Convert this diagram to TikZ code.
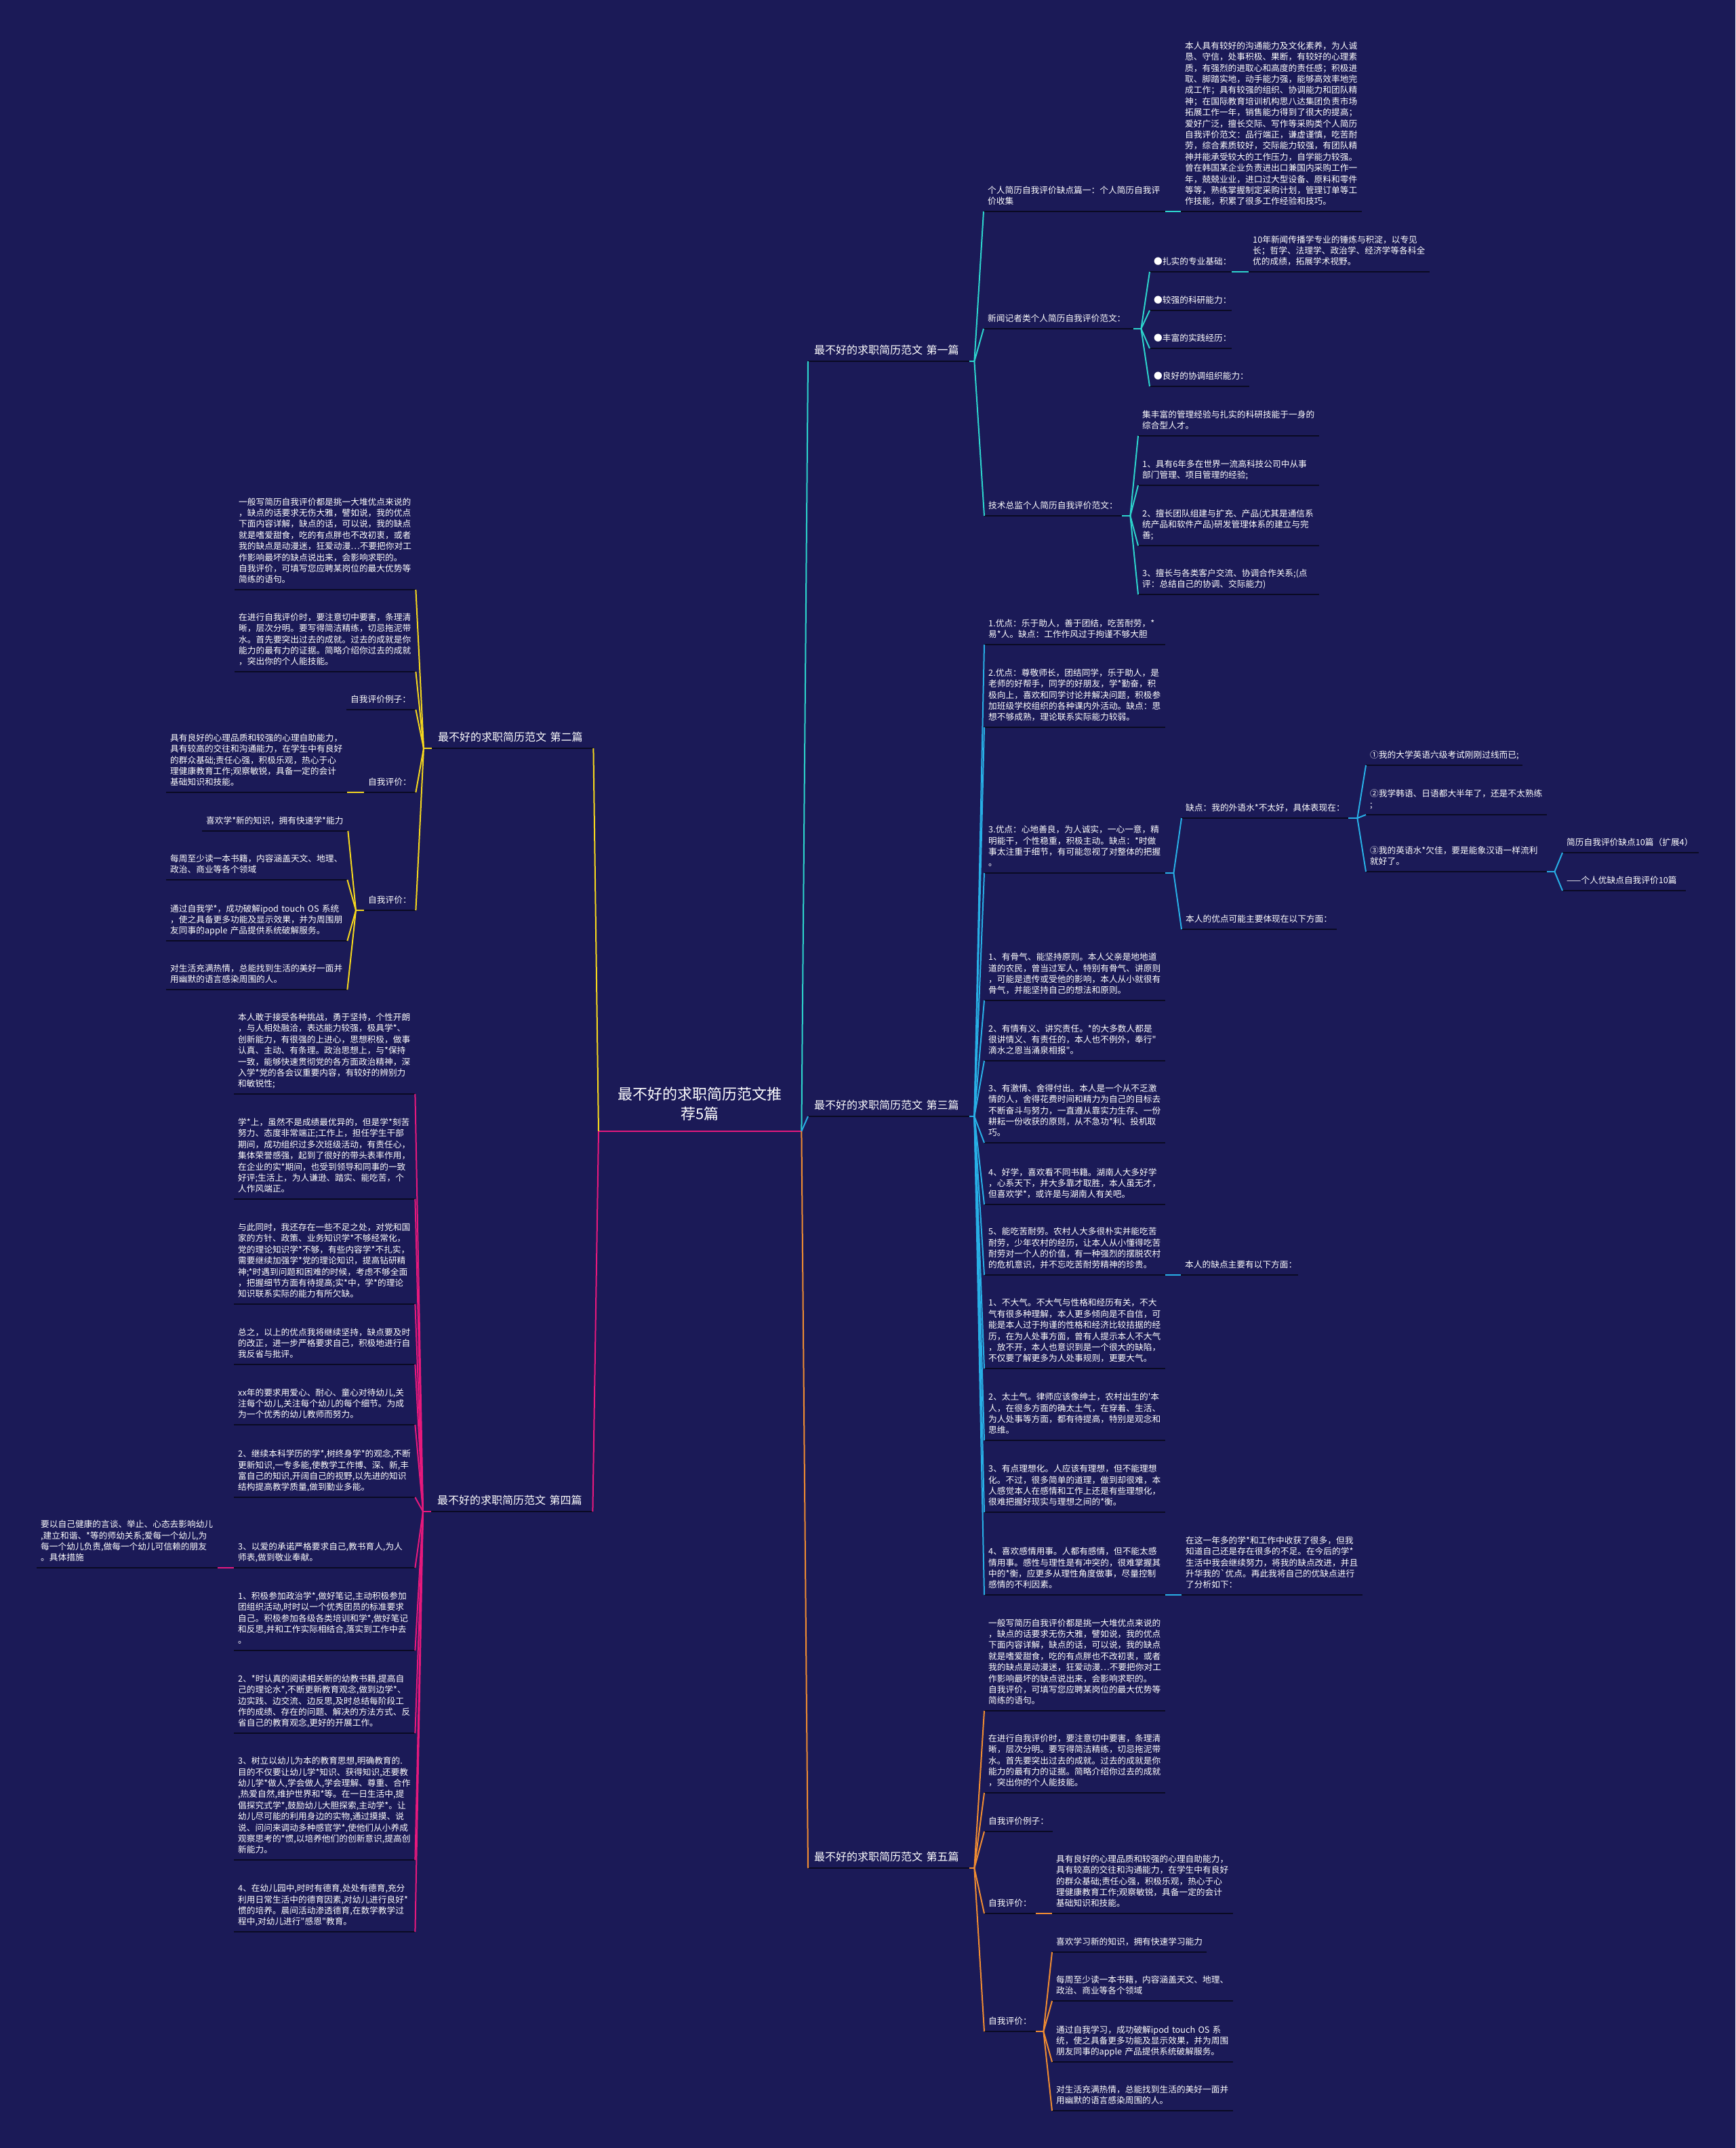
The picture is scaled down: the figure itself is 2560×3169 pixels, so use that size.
\documentclass[tikz,border=0pt]{standalone}
\usepackage{fontspec}
\newfontfamily\cjk{Noto Sans CJK SC}
\definecolor{bg}{RGB}{27,26,87}
\definecolor{ulc}{RGB}{10,10,35}
\definecolor{c1}{RGB}{45,212,205}
\definecolor{c2}{RGB}{245,215,30}
\definecolor{c3}{RGB}{40,175,230}
\definecolor{c4}{RGB}{230,25,125}
\definecolor{c5}{RGB}{240,140,50}

\begin{document}
\begin{tikzpicture}[x=1pt,y=-1pt,
    tx/.style={anchor=south west,text=white,align=left,inner xsep=6pt,inner ysep=5pt,
      font=\cjk\fontsize{12.7}{16.4}\selectfont,execute at end node=\strut},
    para/.style={tx,text width=255pt},
    branch/.style={tx,inner xsep=9pt,inner ysep=4pt,text width=220pt,font=\cjk\fontsize{16}{20}\selectfont},
    ul/.style={draw=ulc,line width=2.2pt},
    ln/.style={draw=#1,line width=2pt}]
\fill[bg] (0,0) rectangle (2560,3169);

% root
\node[tx,align=center,inner xsep=10pt,inner ysep=9pt,text width=279pt,
  font=\cjk\fontsize{22}{29}\selectfont] (r) at (883,1669) {最不好的求职简历范文推\\荐5篇};

% branches
\node[branch] (b1) at (1192,533) {最不好的求职简历范文 第一篇};
\node[branch] (b3) at (1192,1647) {最不好的求职简历范文 第三篇};
\node[branch] (b5) at (1192,2756) {最不好的求职简历范文 第五篇};
\node[branch] (b2) at (637,1104) {最不好的求职简历范文 第二篇};
\node[branch] (b4) at (636,2230) {最不好的求职简历范文 第四篇};

% first
\node[tx,text width=256pt] (n11) at (1451,312) {个人简历自我评价缺点篇一：个人简历自我评\\价收集};
\node[para] (n111) at (1742,312) {本人具有较好的沟通能力及文化素养，为人诚\\恳、守信，处事积极、果断，有较好的心理素\\质，有强烈的进取心和高度的责任感；积极进\\取、脚踏实地，动手能力强，能够高效率地完\\成工作；具有较强的组织、协调能力和团队精\\神；在国际教育培训机构思八达集团负责市场\\拓展工作一年，销售能力得到了很大的提高；\\爱好广泛，擅长交际、写作等采购类个人简历\\自我评价范文：品行端正，谦虚谨慎，吃苦耐\\劳，综合素质较好，交际能力较强，有团队精\\神并能承受较大的工作压力，自学能力较强。\\曾在韩国某企业负责进出口兼国内采购工作一\\年，兢兢业业，进口过大型设备、原料和零件\\等等，熟练掌握制定采购计划，管理订单等工\\作技能，积累了很多工作经验和技巧。};
\node[tx,text width=209pt] (n12) at (1451,485) {新闻记者类个人简历自我评价范文：};
\node[tx,text width=109pt] (n121) at (1696,401) {●扎实的专业基础：};
\node[para] (n1211) at (1842,401) {10年新闻传播学专业的锤炼与积淀，以专见\\长；哲学、法理学、政治学、经济学等各科全\\优的成绩，拓展学术视野。};
\node[tx,text width=109pt] (n122) at (1696,458) {●较强的科研能力：};
\node[tx,text width=109pt] (n123) at (1696,514) {●丰富的实践经历：};
\node[tx,text width=135pt] (n124) at (1696,570) {●良好的协调组织能力：};
\node[tx,text width=191pt] (n13) at (1452,761) {技术总监个人简历自我评价范文：};
\node[para] (n131) at (1679,643) {集丰富的管理经验与扎实的科研技能于一身的\\综合型人才。};
\node[para] (n132) at (1679,716) {1、具有6年多在世界一流高科技公司中从事\\部门管理、项目管理的经验;};
\node[para] (n133) at (1679,805) {2、擅长团队组建与扩充、产品(尤其是通信系\\统产品和软件产品)研发管理体系的建立与完\\善;};
\node[para] (n134) at (1679,877) {3、擅长与各类客户交流、协调合作关系;(点\\评：总结自己的协调、交际能力)};

% third
\node[para] (n31) at (1452,951) {1.优点：乐于助人，善于团结，吃苦耐劳，*\\易*人。缺点：工作作风过于拘谨不够大胆};
\node[para] (n32) at (1452,1073) {2.优点：尊敬师长，团结同学，乐于助人，是\\老师的好帮手，同学的好朋友，学*勤奋，积\\极向上，喜欢和同学讨论并解决问题，积极参\\加班级学校组织的各种课内外活动。缺点：思\\想不够成熟，理论联系实际能力较弱。};
\node[para] (n33) at (1452,1288) {3.优点：心地善良，为人诚实，一心一意，精\\明能干，个性稳重，积极主动。缺点：*时做\\事太注重于细节，有可能忽视了对整体的把握\\。};
\node[tx,text width=234pt] (n331) at (1743,1207) {缺点：我的外语水*不太好，具体表现在：};
\node[tx,text width=219pt] (n3311) at (2015,1129) {①我的大学英语六级考试刚刚过线而已;};
\node[para] (n3312) at (2015,1202) {②我学韩语、日语都大半年了，还是不太熟练\\;};
\node[para] (n3313) at (2015,1286) {③我的英语水*欠佳，要是能象汉语一样流利\\就好了。};
\node[tx,text width=189pt] (n33131) at (2305,1258) {简历自我评价缺点10篇（扩展4）};
\node[tx,text width=170pt] (n33132) at (2305,1314) {——个人优缺点自我评价10篇};
\node[tx,text width=217pt] (n332) at (1743,1371) {本人的优点可能主要体现在以下方面：};
\node[para] (n34) at (1452,1476) {1、有骨气、能坚持原则。本人父亲是地地道\\道的农民，曾当过军人，特别有骨气、讲原则\\，可能是遗传或受他的影响，本人从小就很有\\骨气，并能坚持自己的想法和原则。};
\node[para] (n35) at (1452,1565) {2、有情有义、讲究责任。*的大多数人都是\\很讲情义、有责任的，本人也不例外，奉行"\\滴水之恩当涌泉相报"。};
\node[para] (n36) at (1452,1686) {3、有激情、舍得付出。本人是一个从不乏激\\情的人，舍得花费时间和精力为自己的目标去\\不断奋斗与努力，一直遵从靠实力生存、一份\\耕耘一份收获的原则，从不急功*利、投机取\\巧。};
\node[para] (n37) at (1452,1777) {4、好学，喜欢看不同书籍。湖南人大多好学\\，心系天下，并大多靠才取胜，本人虽无才，\\但喜欢学*，或许是与湖南人有关吧。};
\node[para] (n38) at (1452,1881) {5、能吃苦耐劳。农村人大多很朴实并能吃苦\\耐劳，少年农村的经历，让本人从小懂得吃苦\\耐劳对一个人的价值，有一种强烈的摆脱农村\\的危机意识，并不忘吃苦耐劳精神的珍贵。};
\node[tx,text width=161pt] (n381) at (1742,1881) {本人的缺点主要有以下方面：};
\node[para] (n39) at (1452,2019) {1、不大气。不大气与性格和经历有关，不大\\气有很多种理解，本人更多倾向是不自信，可\\能是本人过于拘谨的性格和经济比较拮据的经\\历，在为人处事方面，曾有人提示本人不大气\\，放不开，本人也意识到是一个很大的缺陷，\\不仅要了解更多为人处事规则，更要大气。};
\node[para] (n310) at (1452,2125) {2、太土气。律师应该像绅士，农村出生的'本\\人，在很多方面的确太土气，在穿着、生活、\\为人处事等方面，都有待提高，特别是观念和\\思维。};
\node[para] (n311) at (1452,2231) {3、有点理想化。人应该有理想，但不能理想\\化。不过，很多简单的道理，做到却很难，本\\人感觉本人在感情和工作上还是有些理想化，\\很难把握好现实与理想之间的*衡。};
\node[para] (n312) at (1452,2353) {4、喜欢感情用事。人都有感情，但不能太感\\情用事。感性与理性是有冲突的，很难掌握其\\中的*衡，应更多从理性角度做事，尽量控制\\感情的不利因素。};
\node[para] (n3121) at (1743,2353) {在这一年多的学*和工作中收获了很多，但我\\知道自己还是存在很多的不足。在今后的学*\\生活中我会继续努力，将我的缺点改进，并且\\升华我的\textasciigrave 优点。再此我将自己的优缺点进行\\了分析如下：};

% fifth
\node[para] (n51) at (1452,2524) {一般写简历自我评价都是挑一大堆优点来说的\\，缺点的话要求无伤大雅，譬如说，我的优点\\下面内容详解，缺点的话，可以说，我的缺点\\就是嗜爱甜食，吃的有点胖也不改初衷，或者\\我的缺点是动漫迷，狂爱动漫…不要把你对工\\作影响最坏的缺点说出来，会影响求职的。\\自我评价，可填写您应聘某岗位的最大优势等\\简练的语句。};
\node[para] (n52) at (1452,2645) {在进行自我评价时，要注意切中要害，条理清\\晰，层次分明。要写得简洁精练，切忌拖泥带\\水。首先要突出过去的成就。过去的成就是你\\能力的最有力的证据。简略介绍你过去的成就\\，突出你的个人能技能。};
\node[tx,text width=89pt] (n53) at (1452,2702) {自我评价例子：};
\node[tx,text width=64pt] (n54) at (1452,2823) {自我评价：};
\node[para] (n541) at (1552,2823) {具有良好的心理品质和较强的心理自助能力，\\具有较高的交往和沟通能力，在学生中有良好\\的群众基础;责任心强，积极乐观，热心于心\\理健康教育工作;观察敏锐，具备一定的会计\\基础知识和技能。};
\node[tx,text width=64pt] (n55) at (1452,2997) {自我评价：};
\node[tx,text width=216pt] (n551) at (1552,2880) {喜欢学习新的知识，拥有快速学习能力};
\node[para] (n552) at (1552,2952) {每周至少读一本书籍，内容涵盖天文、地理、\\政治、商业等各个领域};
\node[para] (n553) at (1552,3042) {通过自我学习，成功破解ipod~touch~OS~系\\统，使之具备更多功能及显示效果，并为周围\\朋友同事的apple~产品提供系统破解服务。};
\node[para] (n554) at (1552,3114) {对生活充满热情，总能找到生活的美好一面并\\用幽默的语言感染周围的人。};

% second
\node[para] (n21) at (346,870) {一般写简历自我评价都是挑一大堆优点来说的\\，缺点的话要求无伤大雅，譬如说，我的优点\\下面内容详解，缺点的话，可以说，我的缺点\\就是嗜爱甜食，吃的有点胖也不改初衷，或者\\我的缺点是动漫迷，狂爱动漫…不要把你对工\\作影响最坏的缺点说出来，会影响求职的。\\自我评价，可填写您应聘某岗位的最大优势等\\简练的语句。};
\node[para] (n22) at (346,991) {在进行自我评价时，要注意切中要害，条理清\\晰，层次分明。要写得简洁精练，切忌拖泥带\\水。首先要突出过去的成就。过去的成就是你\\能力的最有力的证据。简略介绍你过去的成就\\，突出你的个人能技能。};
\node[tx,text width=90pt] (n23) at (511,1047) {自我评价例子：};
\node[tx,text width=64pt] (n24) at (537,1169) {自我评价：};
\node[para] (n241) at (245,1169) {具有良好的心理品质和较强的心理自助能力，\\具有较高的交往和沟通能力，在学生中有良好\\的群众基础;责任心强，积极乐观，热心于心\\理健康教育工作;观察敏锐，具备一定的会计\\基础知识和技能。};
\node[tx,text width=64pt] (n25) at (537,1343) {自我评价：};
\node[tx,text width=203pt] (n251) at (298,1226) {喜欢学*新的知识，拥有快速学*能力};
\node[para] (n252) at (245,1298) {每周至少读一本书籍，内容涵盖天文、地理、\\政治、商业等各个领域};
\node[para] (n253) at (245,1388) {通过自我学*，成功破解ipod~touch~OS~系统\\，使之具备更多功能及显示效果，并为周围朋\\友同事的apple~产品提供系统破解服务。};
\node[para] (n254) at (245,1460) {对生活充满热情，总能找到生活的美好一面并\\用幽默的语言感染周围的人。};

% fourth
\node[para] (n41) at (345,1614) {本人敢于接受各种挑战，勇于坚持，个性开朗\\，与人相处融洽，表达能力较强，极具学*、\\创新能力，有很强的上进心，思想积极，做事\\认真、主动、有条理。政治思想上，与*保持\\一致，能够快速贯彻党的各方面政治精神，深\\入学*党的各会议重要内容，有较好的辨别力\\和敏锐性;};
\node[para] (n42) at (345,1769) {学*上，虽然不是成绩最优异的，但是学*刻苦\\努力、态度非常端正;工作上，担任学生干部\\期间，成功组织过多次班级活动，有责任心，\\集体荣誉感强，起到了很好的带头表率作用，\\在企业的实*期间，也受到领导和同事的一致\\好评;生活上，为人谦逊、踏实、能吃苦，个\\人作风端正。};
\node[para] (n43) at (345,1924) {与此同时，我还存在一些不足之处，对党和国\\家的方针、政策、业务知识学*不够经常化，\\党的理论知识学*不够，有些内容学*不扎实，\\需要继续加强学*党的理论知识，提高钻研精\\神;*时遇到问题和困难的时候，考虑不够全面\\，把握细节方面有待提高;实*中，学*的理论\\知识联系实际的能力有所欠缺。};
\node[para] (n44) at (345,2013) {总之，以上的优点我将继续坚持，缺点要及时\\的改正，进一步严格要求自己，积极地进行自\\我反省与批评。};
\node[para] (n45) at (345,2102) {xx年的要求用爱心、耐心、童心对待幼儿,关\\注每个幼儿,关注每个幼儿的每个细节。为成\\为一个优秀的幼儿教师而努力。};
\node[para] (n46) at (345,2209) {2、继续本科学历的学*,树终身学*的观念,不断\\更新知识,一专多能,使教学工作博、深、新,丰\\富自己的知识,开阔自己的视野,以先进的知识\\结构提高教学质量,做到勤业多能。};
\node[para] (n47) at (345,2313) {3、以爱的承诺严格要求自己,教书育人,为人\\师表,做到敬业奉献。};
\node[para] (n471) at (54,2313) {要以自己健康的言谈、举止、心态去影响幼儿\\,建立和谐、*等的师幼关系;爱每一个幼儿,为\\每一个幼儿负责,做每一个幼儿可信赖的朋友\\。具体措施};
\node[para] (n48) at (345,2435) {1、积极参加政治学*,做好笔记,主动积极参加\\团组织活动,时时以一个优秀团员的标准要求\\自己。积极参加各级各类培训和学*,做好笔记\\和反思,并和工作实际相结合,落实到工作中去\\。};
\node[para] (n49) at (345,2557) {2、*时认真的阅读相关新的幼教书籍,提高自\\己的理论水*,不断更新教育观念,做到边学*、\\边实践、边交流、边反思,及时总结每阶段工\\作的成绩、存在的问题、解决的方法方式、反\\省自己的教育观念,更好的开展工作。};
\node[para] (n410) at (345,2744) {3、树立以幼儿为本的教育思想,明确教育的.\\目的不仅要让幼儿学*知识、获得知识,还要教\\幼儿学*做人,学会做人,学会理解、尊重、合作\\,热爱自然,维护世界和*等。在一日生活中,提\\倡探究式学*,鼓励幼儿大胆探索,主动学*。让\\幼儿尽可能的利用身边的实物,通过摸摸、说\\说、问问来调动多种感官学*,使他们从小养成\\观察思考的*惯,以培养他们的创新意识,提高创\\新能力。};
\node[para] (n411) at (345,2850) {4、在幼儿园中,时时有德育,处处有德育,充分\\利用日常生活中的德育因素,对幼儿进行良好*\\惯的培养。晨间活动渗透德育,在数学教学过\\程中,对幼儿进行"感恩"教育。};

% underlines
\draw[ln=c4,line width=2.2pt] (r.south west) -- (r.south east);
\foreach \n in {b1,b2,b3,b4,b5,n11,n111,n12,n121,n1211,n122,n123,n124,n13,n131,n132,n133,n134,
  n31,n32,n33,n331,n3311,n3312,n3313,n33131,n33132,n332,n34,n35,n36,n37,n38,n381,n39,n310,n311,n312,n3121,
  n51,n52,n53,n54,n541,n55,n551,n552,n553,n554,
  n21,n22,n23,n24,n241,n25,n251,n252,n253,n254,
  n41,n42,n43,n44,n45,n46,n47,n471,n48,n49,n410,n411}
  \draw[ul] (\n.south west) -- (\n.south east);

% root to branches
\draw[ln=c1] (r.south east) -- (b1.south west);
\draw[ln=c3] (r.south east) -- (b3.south west);
\draw[ln=c5] (r.south east) -- (b5.south west);
\draw[ln=c2] (r.south west) -- (b2.south east);
\draw[ln=c4] (r.south west) -- (b4.south east);

% first
\draw[ln=c1] (b1.south east) -- ++(7,0) coordinate (f1);
\foreach \n in {n11,n12,n13} \draw[ln=c1] (f1) -- (\n.south west);
\draw[ln=c1] (n11.south east) -- (n111.south west);
\draw[ln=c1] (n12.south east) -- ++(11,0) coordinate (f12);
\foreach \n in {n121,n122,n123,n124} \draw[ln=c1] (f12) -- (\n.south west);
\draw[ln=c1] (n121.south east) -- (n1211.south west);
\draw[ln=c1] (n13.south east) -- ++(12,0) coordinate (f13);
\foreach \n in {n131,n132,n133,n134} \draw[ln=c1] (f13) -- (\n.south west);

% third
\draw[ln=c3] (b3.south east) -- ++(7,0) coordinate (f3);
\foreach \n in {n31,n32,n33,n34,n35,n36,n37,n38,n39,n310,n311,n312} \draw[ln=c3] (f3) -- (\n.south west);
\draw[ln=c3] (n33.south east) -- ++(12,0) coordinate (f33);
\foreach \n in {n331,n332} \draw[ln=c3] (f33) -- (\n.south west);
\draw[ln=c3] (n331.south east) -- ++(13,0) coordinate (f331);
\foreach \n in {n3311,n3312,n3313} \draw[ln=c3] (f331) -- (\n.south west);
\draw[ln=c3] (n3313.south east) -- ++(11,0) coordinate (f3313);
\foreach \n in {n33131,n33132} \draw[ln=c3] (f3313) -- (\n.south west);
\draw[ln=c3] (n38.south east) -- (n381.south west);
\draw[ln=c3] (n312.south east) -- (n3121.south west);

% fifth
\draw[ln=c5] (b5.south east) -- ++(7,0) coordinate (f5);
\foreach \n in {n51,n52,n53,n54,n55} \draw[ln=c5] (f5) -- (\n.south west);
\draw[ln=c5] (n54.south east) -- (n541.south west);
\draw[ln=c5] (n55.south east) -- ++(11,0) coordinate (f55);
\foreach \n in {n551,n552,n553,n554} \draw[ln=c5] (f55) -- (\n.south west);

% second
\draw[ln=c2] (b2.south west) -- ++(-12,0) coordinate (f2);
\foreach \n in {n21,n22,n23,n24,n25} \draw[ln=c2] (f2) -- (\n.south east);
\draw[ln=c2] (n24.south west) -- (n241.south east);
\draw[ln=c2] (n25.south west) -- ++(-12,0) coordinate (f25);
\foreach \n in {n251,n252,n253,n254} \draw[ln=c2] (f25) -- (\n.south east);

% fourth
\draw[ln=c4] (b4.south west) -- ++(-12,0) coordinate (f4);
\foreach \n in {n41,n42,n43,n44,n45,n46,n47,n48,n49,n410,n411} \draw[ln=c4] (f4) -- (\n.south east);
\draw[ln=c4] (n47.south west) -- (n471.south east);
\end{tikzpicture}
\end{document}
